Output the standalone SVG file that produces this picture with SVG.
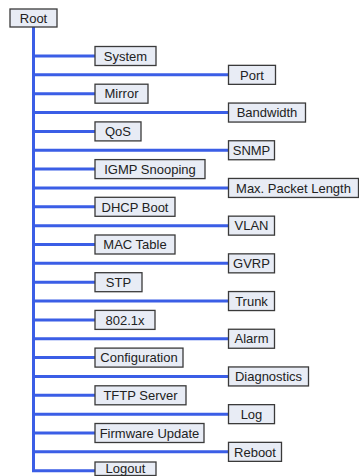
<svg xmlns="http://www.w3.org/2000/svg" width="359" height="476" viewBox="0 0 359 476">
<style>
.box{fill:#e8ecf5;stroke:#3a3a3a;stroke-width:1.3}
.lbl{font-family:"Liberation Sans",Arial,sans-serif;font-size:13px;fill:#222;text-anchor:middle}
.ln{stroke:#3b5ee6;stroke-width:3;fill:none}
</style>
<rect width="359" height="476" fill="#fff"/>
<g id="connectors">
<path class="ln" d="M33.5,27 V470.7 H95"/>
<path class="ln" d="M33.5,56 H95 M33.5,93.7 H95 M33.5,131.4 H95 M33.5,169.1 H95 M33.5,206.8 H95 M33.5,244.5 H95 M33.5,282.2 H95 M33.5,319.9 H95 M33.5,357.6 H95 M33.5,395.3 H95 M33.5,433 H95"/>
<path class="ln" d="M33.5,74.85 H228.5 M33.5,112.55 H228.5 M33.5,150.25 H228.5 M33.5,187.95 H228.5 M33.5,225.65 H228.5 M33.5,263.35 H228.5 M33.5,301.05 H228.5 M33.5,338.75 H228.5 M33.5,376.45 H228.5 M33.5,414.15 H228.5 M33.5,451.85 H228.5"/>
</g>
<g id="root"><rect class="box" x="10" y="9" width="47" height="18"/><text class="lbl" x="33.5" y="22.5">Root</text></g>
<g id="system"><rect class="box" x="95" y="46.5" width="61" height="19"/><text class="lbl" x="125.5" y="60.7">System</text></g>
<g id="port"><rect class="box" x="228.5" y="65.35" width="47" height="19"/><text class="lbl" x="252" y="79.55">Port</text></g>
<g id="mirror"><rect class="box" x="95" y="84.2" width="53" height="19"/><text class="lbl" x="121.5" y="98.4">Mirror</text></g>
<g id="bandwidth"><rect class="box" x="228.5" y="103.05" width="77" height="19"/><text class="lbl" x="267" y="117.25">Bandwidth</text></g>
<g id="qos"><rect class="box" x="95" y="121.9" width="46" height="19"/><text class="lbl" x="118" y="136.1">QoS</text></g>
<g id="snmp"><rect class="box" x="228.5" y="140.75" width="46" height="19"/><text class="lbl" x="251.5" y="154.95">SNMP</text></g>
<g id="igmp"><rect class="box" x="95" y="159.6" width="110" height="19"/><text class="lbl" x="150" y="173.8">IGMP Snooping</text></g>
<g id="maxpkt"><rect class="box" x="228.5" y="178.45" width="130" height="19"/><text class="lbl" x="293.5" y="192.65">Max. Packet Length</text></g>
<g id="dhcp"><rect class="box" x="95" y="197.3" width="80" height="19"/><text class="lbl" x="135" y="211.5">DHCP Boot</text></g>
<g id="vlan"><rect class="box" x="228.5" y="216.15" width="46" height="19"/><text class="lbl" x="251.5" y="230.35">VLAN</text></g>
<g id="mac"><rect class="box" x="95" y="235" width="80" height="19"/><text class="lbl" x="135" y="249.2">MAC Table</text></g>
<g id="gvrp"><rect class="box" x="228.5" y="253.85" width="46" height="19"/><text class="lbl" x="251.5" y="268.05">GVRP</text></g>
<g id="stp"><rect class="box" x="95" y="272.7" width="47" height="19"/><text class="lbl" x="118.5" y="286.9">STP</text></g>
<g id="trunk"><rect class="box" x="228.5" y="291.55" width="46" height="19"/><text class="lbl" x="251.5" y="305.75">Trunk</text></g>
<g id="dot1x"><rect class="box" x="95" y="310.4" width="60" height="19"/><text class="lbl" x="125" y="324.6">802.1x</text></g>
<g id="alarm"><rect class="box" x="228.5" y="329.25" width="46" height="19"/><text class="lbl" x="251.5" y="343.45">Alarm</text></g>
<g id="config"><rect class="box" x="95" y="348.1" width="88" height="19"/><text class="lbl" x="139" y="362.3">Configuration</text></g>
<g id="diag"><rect class="box" x="228.5" y="366.95" width="80" height="19"/><text class="lbl" x="268.5" y="381.15">Diagnostics</text></g>
<g id="tftp"><rect class="box" x="95" y="385.8" width="91" height="19"/><text class="lbl" x="140.5" y="400">TFTP Server</text></g>
<g id="log"><rect class="box" x="228.5" y="404.65" width="46" height="19"/><text class="lbl" x="251.5" y="418.85">Log</text></g>
<g id="firmware"><rect class="box" x="95" y="423.5" width="109" height="19"/><text class="lbl" x="149.5" y="437.7">Firmware Update</text></g>
<g id="reboot"><rect class="box" x="228.5" y="442.35" width="53" height="19"/><text class="lbl" x="255" y="456.55">Reboot</text></g>
<g id="logout"><rect class="box" x="95" y="462" width="61" height="13.5"/><text class="lbl" x="125.5" y="473">Logout</text></g>
</svg>
